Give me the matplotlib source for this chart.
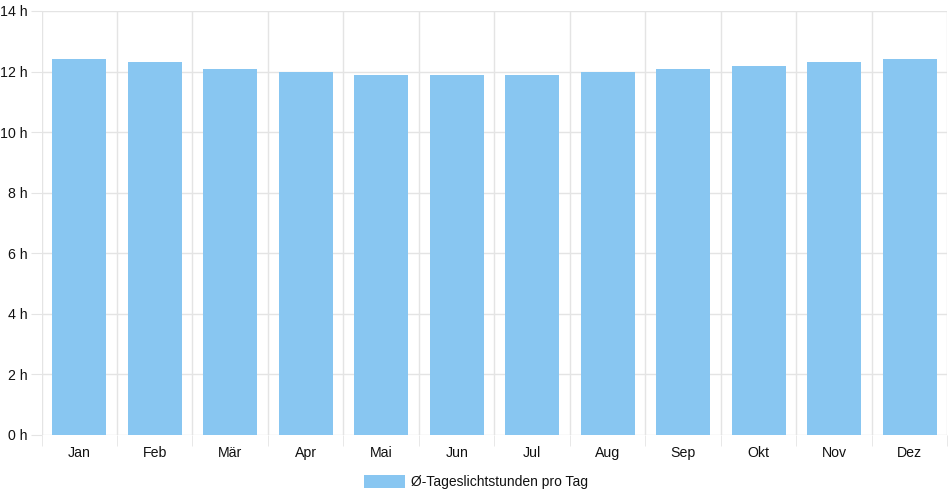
import matplotlib.pyplot as plt
from matplotlib.patches import Patch

# Daten
monate = ['Jan', 'Feb', 'Mär', 'Apr', 'Mai', 'Jun', 'Jul', 'Aug', 'Sep', 'Okt', 'Nov', 'Dez']
stunden = [12.4, 12.3, 12.1, 12.0, 11.9, 11.9, 11.9, 12.0, 12.1, 12.2, 12.3, 12.4]
y_ticks = [0, 2, 4, 6, 8, 10, 12, 14]
label = 'Ø-Tageslichtstunden pro Tag'

farbe = '#88C6F1'
grid_farbe = '#e4e4e4'
text_farbe = '#111111'

plt.rcParams['font.family'] = ['Liberation Sans', 'DejaVu Sans']

fig = plt.figure(figsize=(9.52, 5.0), dpi=100)
W, H = 952, 500
left, right, top, bottom = 41.5, 947.5, 11, 435
ax = fig.add_axes([left / W, 1 - bottom / H, (right - left) / W, (bottom - top) / H])

x = list(range(len(monate)))
ax.bar(x, stunden, width=0.72, color=farbe, zorder=2)

ax.set_xlim(-0.5, len(monate) - 0.5)
ax.set_ylim(0, 14)
ax.set_yticks(y_ticks)
ax.set_yticklabels([f'{v} h' for v in y_ticks])
ax.set_xticks(x)
ax.set_xticklabels(monate)

# vertikale Gitterlinien zwischen den Kategorien
for i in range(len(monate) + 1):
    ax.axvline(i - 0.5, color=grid_farbe, lw=1, zorder=0)
ax.yaxis.grid(True, color=grid_farbe, lw=1, zorder=0)
ax.set_axisbelow(True)

for s in ax.spines.values():
    s.set_visible(False)

ax.tick_params(axis='y', length=8, color=grid_farbe, labelsize=10.2, pad=2, labelcolor=text_farbe)
ax.tick_params(axis='x', length=0, labelsize=10.2, pad=8, labelcolor=text_farbe)
ax.set_xticks([i - 0.5 for i in range(len(monate) + 1)], minor=True)
ax.tick_params(axis='x', which='minor', length=8, color=grid_farbe)

handle = Patch(facecolor=farbe, edgecolor='none')
fig.legend([handle], [label], loc='center', bbox_to_anchor=(476 / W, 1 - 482 / H),
           frameon=False, fontsize=10, handlelength=3.0, handleheight=1.1,
           handletextpad=0.45, labelcolor=text_farbe)

fig.savefig('out.png', dpi=100)
